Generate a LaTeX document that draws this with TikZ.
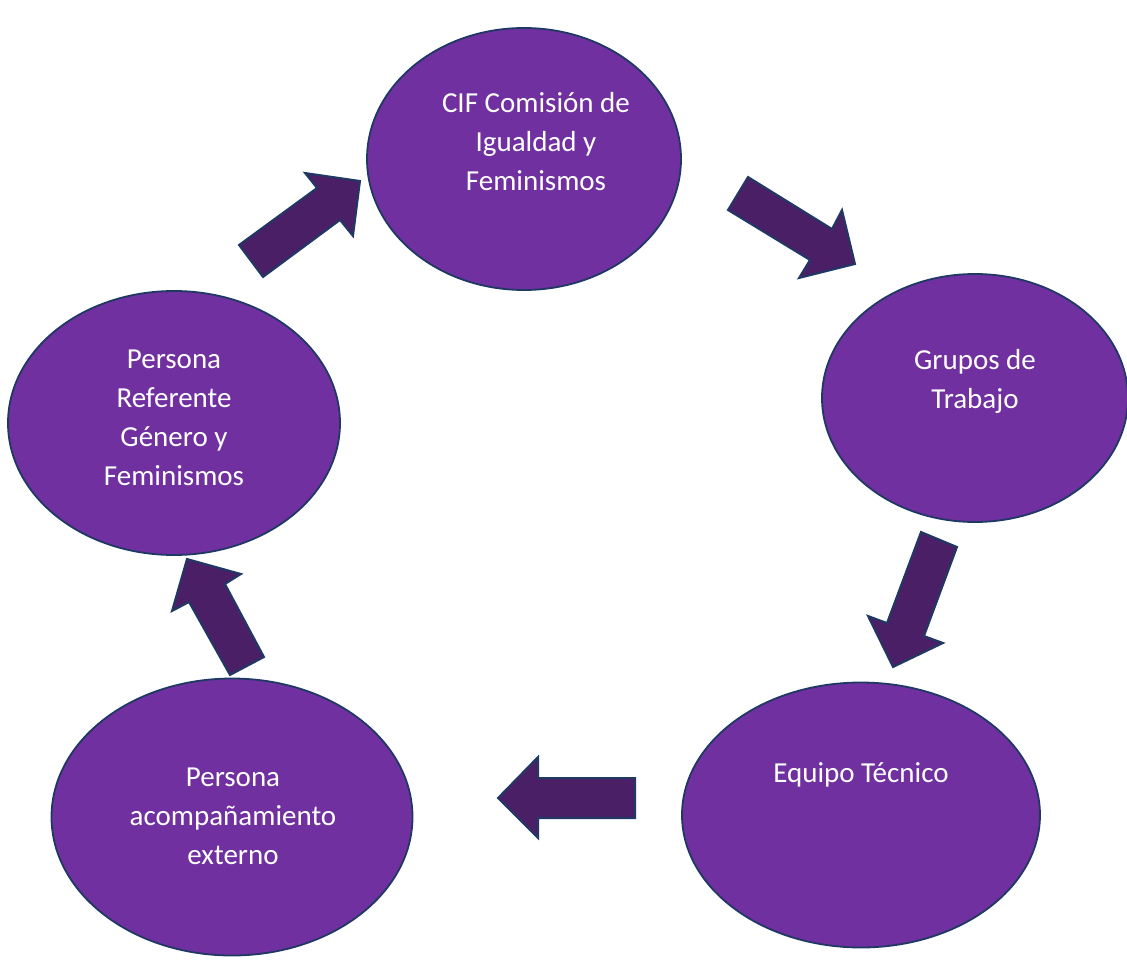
\documentclass[tikz,border=0pt]{standalone}
\usepackage{fontspec}
\setmainfont{Carlito}
\usetikzlibrary{shapes.geometric}
\definecolor{ellfill}{HTML}{7030A0}
\definecolor{edgeblue}{HTML}{1F3864}
\definecolor{arrfill}{RGB}{75,31,102}
\tikzset{
  bubble/.style={ellipse, draw=edgeblue, fill=ellfill, line width=1.8pt, inner sep=0pt},
  lbl/.style={text=white, align=center, inner sep=0pt, font=\fontsize{29}{39}\selectfont},
  blockarrow/.style={draw=edgeblue, fill=arrfill, line width=2pt, line join=miter}
}
\begin{document}
\begin{tikzpicture}[x=1pt,y=-1pt]
\useasboundingbox (0,0) rectangle (1127,960);
\begin{scope}
\clip (0,0) rectangle (1127,960);
% ellipses
\node[bubble, minimum width=314pt, minimum height=262pt] (cif) at (524,159) {};
\node[bubble, minimum width=306pt, minimum height=248pt] (grupos) at (975,398) {};
\node[bubble, minimum width=358pt, minimum height=265pt] (equipo) at (861,815) {};
\node[bubble, minimum width=361pt, minimum height=277pt] (acomp) at (232,817) {};
\node[bubble, minimum width=332pt, minimum height=264pt] (refer) at (174,423) {};
% labels
\node[lbl] (cifT) at (536,142) {CIF Comisión de\\Igualdad y\\Feminismos};
\node[lbl] (gruposT) at (975,381) {Grupos de\\Trabajo};
\node[lbl] (equipoT) at (861,775) {Equipo Técnico};
\node[lbl] (acompT) at (233,816) {Persona\\acompañamiento\\externo};
\node[lbl] (referT) at (174,418) {Persona\\Referente\\Género y\\Feminismos};
% block arrows
\draw[blockarrow] (239,245) -- (317,188) -- (305,173) -- (360,181) -- (353,236) -- (340,220) -- (263,277) -- cycle;
\draw[blockarrow] (748,177) -- (832,229) -- (842,210) -- (855,264) -- (799,278) -- (810,260) -- (728,210) -- cycle;
\draw[blockarrow] (921,532) -- (957,547) -- (924,636) -- (943,643) -- (893,667) -- (868,616) -- (887,623) -- cycle;
\draw[blockarrow] (635,778) -- (538,778) -- (538,757) -- (498,798) -- (538,838) -- (538,818) -- (635,818) -- cycle;
\draw[blockarrow] (187,559) -- (241,574) -- (225,584) -- (264,657) -- (230,675) -- (189,602) -- (172,611) -- cycle;
\end{scope}
\end{tikzpicture}
\end{document}
